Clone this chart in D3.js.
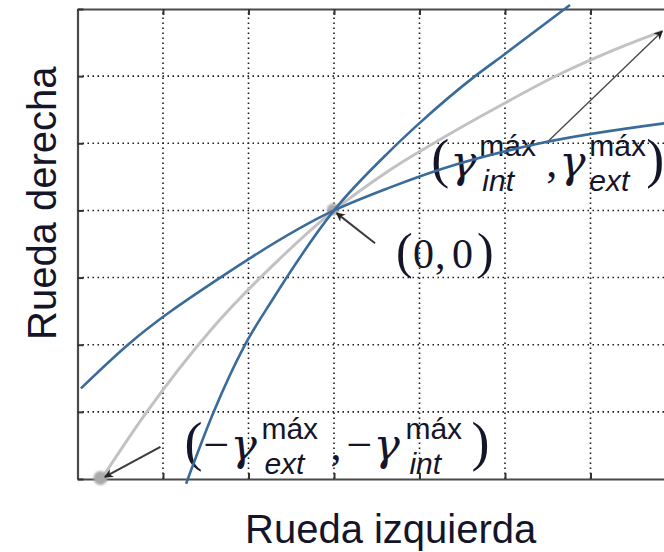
<!DOCTYPE html>
<html>
<head>
<meta charset="utf-8">
<script src="https://cdn.jsdelivr.net/npm/d3@7"></script>
<style>
  html, body { margin: 0; padding: 0; background: #fff; }
  svg { display: block; }
</style>
</head>
<body>
<svg id="chart" width="664" height="552"></svg>
<script>
// Wheel-speed plane: left wheel (x) versus right wheel (y)
const xTicks = [-3, -2, -1, 0, 1, 2, 3, 4];
const yTicks = [-4, -3, -2, -1, 0, 1, 2, 3];

// Operating curve between the two extreme points (grey)
const operatingCurve = [
  [-2.72, -4.0], [-2.2, -3.02], [-1.44, -1.78], [-0.7, -0.8], [0, 0],
  [0.65, 0.6], [1.3, 1.1], [2.0, 1.6], [2.56, 1.98], [3.2, 2.35], [3.84, 2.67]
];

// Steep boundary curve (blue)
const steepCurve = [
  [-1.73, -4.07], [-1.41, -3.01], [-1.04, -2.0], [-0.72, -1.33], [0, 0],
  [0.65, 0.88], [1.0, 1.3], [1.65, 2.0], [2.0, 2.33], [2.76, 3.06]
];

// Shallow boundary curve (blue)
const shallowCurve = [
  [-2.96, -2.65], [-2.41, -2.0], [-1.33, -1.0], [0, 0],
  [0.65, 0.34], [1.24, 0.61], [2.41, 1.0], [3.88, 1.3]
];

// Highlighted points on the operating curve
const keyPoints = [[0, 0, 6], [-2.72, -4.0, 7]];

// Arrows: tail -> head, in data units
const arrows = [
  { from: [0.48, -0.49], to: [0.03, -0.04], color: "#3a3a3a", width: 2 },
  { from: [-2.03, -3.52], to: [-2.68, -3.97], color: "#3a3a3a", width: 2 },
  { from: [2.48, 1.0], to: [3.84, 2.67], color: "#4a4a4a", width: 1.4 }
];

const svg = d3.select("#chart");

const x = d3.scaleLinear().domain([-3, 4]).range([77.5, 676]);
const y = d3.scaleLinear().domain([-4, 3]).range([479, 9]);

const defs = svg.append("defs");
defs.append("filter").attr("id", "soft").attr("x", "-50%").attr("y", "-50%")
  .attr("width", "200%").attr("height", "200%")
  .append("feGaussianBlur").attr("stdDeviation", 1.3);
defs.append("filter").attr("id", "softLine")
  .append("feGaussianBlur").attr("stdDeviation", 0.5);
defs.append("marker").attr("id", "head")
  .attr("viewBox", "0 0 10 10").attr("refX", 9).attr("refY", 5)
  .attr("markerWidth", 11).attr("markerHeight", 9)
  .attr("markerUnits", "userSpaceOnUse").attr("orient", "auto")
  .append("path").attr("d", "M0,0 L10,5 L0,10 L3,5 Z").attr("fill", "#222");

// Dotted grid
const grid = svg.append("g")
  .attr("stroke", "#1a1a1a").attr("stroke-width", 1.6)
  .attr("stroke-dasharray", "1.5,3.5");
grid.selectAll("line.v").data(xTicks.slice(1, -1)).join("line").attr("class", "v")
  .attr("x1", d => x(d)).attr("x2", d => x(d))
  .attr("y1", y(-4)).attr("y2", y(3));
grid.selectAll("line.h").data(yTicks.slice(1, -1)).join("line").attr("class", "h")
  .attr("x1", x(-3)).attr("x2", x(4))
  .attr("y1", d => y(d)).attr("y2", d => y(d));

// Frame with inward ticks
function styleAxis(g) {
  g.select(".domain").attr("stroke", "#4a4a4a").attr("stroke-width", 2.2);
  g.selectAll(".tick line").attr("stroke", "#333").attr("stroke-width", 2);
}
svg.append("g").attr("transform", `translate(0,${y(-4)})`)
  .call(d3.axisBottom(x).tickValues(xTicks).tickSize(-6).tickSizeOuter(0).tickFormat(""))
  .call(styleAxis);
svg.append("g").attr("transform", `translate(0,${y(3)})`)
  .call(d3.axisTop(x).tickValues(xTicks).tickSize(-6).tickSizeOuter(0).tickFormat(""))
  .call(styleAxis);
svg.append("g").attr("transform", `translate(${x(-3)},0)`)
  .call(d3.axisLeft(y).tickValues(yTicks).tickSize(-6).tickSizeOuter(0).tickFormat(""))
  .call(styleAxis);
svg.append("g").attr("transform", `translate(${x(4)},0)`)
  .call(d3.axisRight(y).tickValues(yTicks).tickSize(-6).tickSizeOuter(0).tickFormat(""))
  .call(styleAxis);

const line = d3.line().x(d => x(d[0])).y(d => y(d[1])).curve(d3.curveMonotoneX);

// Grey operating curve
svg.append("path").datum(operatingCurve)
  .attr("d", line).attr("fill", "none")
  .attr("stroke", "#c2c2c2").attr("stroke-width", 3)
  .attr("filter", "url(#softLine)");

// Key points
svg.selectAll("circle.key").data(keyPoints).join("circle").attr("class", "key")
  .attr("cx", d => x(d[0]) - 1).attr("cy", d => y(d[1]) - 1)
  .attr("r", d => d[2]).attr("fill", "#a9a9a9").attr("filter", "url(#soft)");

// Math-style annotation labels, one text element per label
const SERIF = "'Liberation Serif', 'Times New Roman', serif";
const GREEK = "'DejaVu Serif', serif";
const SANS = "'Liberation Sans', Arial, sans-serif";
const ink = "#15152a";

function mathLabel(ox, oy, pieces) {
  const t = svg.append("text").attr("fill", ink);
  pieces.forEach(p => {
    const kind = p[3];
    t.append("tspan")
      .attr("x", ox + p[1]).attr("y", oy + (p[2] || 0))
      .attr("font-family", kind === "g" ? GREEK : (kind === "s" || kind === "si") ? SANS : SERIF)
      .attr("font-style", (kind === "g" || kind === "si") ? "italic" : "normal")
      .attr("font-size", p[4])
      .text(p[0]);
  });
}

mathLabel(x(0) + 62, y(0) + 58, [
  ["(", 0, 0, "r", 50], ["0", 17, 0, "r", 42], [",", 39, 0, "r", 42],
  ["0", 56, 0, "r", 42], [")", 81, 0, "r", 50]
]);

mathLabel(x(-2.72) + 86, y(-4) - 19, [
  ["(", -3, 0, "r", 54], ["\u2212", 16, 0, "r", 46], ["\u03B3", 43, 0, "g", 44],
  ["m\u00E1x", 74, -21, "s", 30], ["ext", 77, 14, "si", 30],
  [",", 143, 0, "r", 44], ["\u2212", 159, 0, "r", 46], ["\u03B3", 186, 0, "g", 44],
  ["m\u00E1x", 218, -21, "s", 30], ["int", 222, 14, "si", 30],
  [")", 284, 0, "r", 54]
]);

mathLabel(x(3.84) - 228, y(2.67) + 146, [
  ["(", -3, 0, "r", 54], ["\u03B3", 16, 0, "g", 44],
  ["m\u00E1x", 45, -21, "s", 30], ["int", 48, 14, "si", 30],
  [",", 112, 0, "r", 44], ["\u03B3", 125, 0, "g", 44],
  ["m\u00E1x", 155, -21, "s", 30], ["ext", 155, 14, "si", 30],
  [")", 212, 0, "r", 54]
]);

// Arrows
svg.selectAll("line.arrow").data(arrows).join("line").attr("class", "arrow")
  .attr("x1", d => x(d.from[0])).attr("y1", d => y(d.from[1]))
  .attr("x2", d => x(d.to[0])).attr("y2", d => y(d.to[1]))
  .attr("stroke", d => d.color).attr("stroke-width", d => d.width)
  .attr("marker-end", "url(#head)");

// Blue boundary curves
[steepCurve, shallowCurve].forEach(c => {
  svg.append("path").datum(c)
    .attr("d", line).attr("fill", "none")
    .attr("stroke", "#3a6b9a").attr("stroke-width", 2.6);
});

// Axis titles
svg.append("text")
  .attr("x", 245).attr("y", 543)
  .attr("font-family", SANS).attr("font-size", 40).attr("fill", ink)
  .text("Rueda izquierda");
svg.append("text")
  .attr("transform", "translate(56,340) rotate(-90)")
  .attr("font-family", SANS).attr("font-size", 40).attr("fill", ink)
  .text("Rueda derecha");
</script>
</body>
</html>
